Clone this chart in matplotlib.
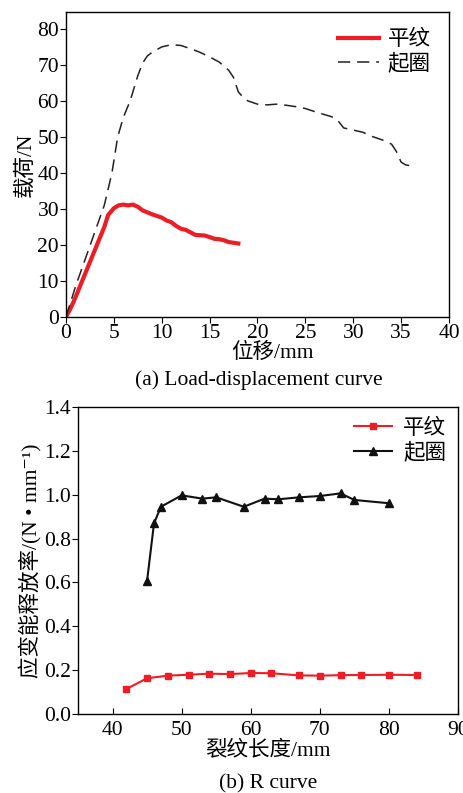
import matplotlib
matplotlib.use("Agg")
import matplotlib.pyplot as plt

# ---- data: (a) load-displacement ----
flat_x = [0, 0.5, 1, 2, 3, 4, 4.4, 5, 5.5, 6, 6.5, 7, 7.5, 8, 9, 10, 10.5, 11, 11.5, 12,
          12.5, 13, 13.5, 14, 14.5, 15, 15.5, 16, 16.5, 17, 17.5, 18]
flat_y = [0, 2.5, 5.5, 12, 18.5, 25, 28.3, 30.2, 31, 31.2, 31.0, 31.2, 30.6, 29.6, 28.5,
          27.6, 26.8, 26.3, 25.3, 24.5, 24.2, 23.5, 22.8, 22.7, 22.6, 22.2, 21.7, 21.6,
          21.3, 20.8, 20.6, 20.4]
loop_x = [0, 1, 2, 3, 4, 4.8, 5.4, 6, 6.7, 7.5, 8, 8.5, 9, 10, 11, 12, 13, 14, 15, 16,
          17, 17.5, 18, 18.5, 19, 20, 21, 22, 23, 24, 25, 26, 27, 28, 28.5, 29, 30, 31,
          32, 33, 34, 34.5, 35, 35.5, 36.3]
loop_y = [0, 8.5, 16, 23.5, 31, 40, 50, 55.5, 60, 67, 70.5, 72.5, 73.5, 75, 75.6, 75.4,
          74.5, 73.5, 72.2, 70.8, 68.5, 66.5, 62.5, 61, 60, 59.1, 58.9, 59.1, 58.8, 58.4,
          57.9, 57, 56.2, 55.4, 54.2, 52.5, 51.9, 51.3, 50.1, 49.2, 48, 46, 43, 42.2, 41.9]

# ---- data: (b) R curve ----
r_flat_x = [42, 45, 48, 51, 54, 57, 60, 63, 67, 70, 73, 76, 80, 84]
r_flat_y = [0.114, 0.163, 0.175, 0.179, 0.184, 0.182, 0.187, 0.186, 0.176, 0.175,
            0.177, 0.178, 0.179, 0.178]
r_loop_x = [45, 46, 47, 50, 53, 55, 59, 62, 64, 67, 70, 73, 75, 80]
r_loop_y = [0.608, 0.869, 0.945, 0.997, 0.982, 0.988, 0.945, 0.982, 0.979, 0.988,
            0.994, 1.006, 0.976, 0.961]

plt.rcParams['font.family'] = ['Liberation Serif', 'Noto Sans CJK SC', 'DejaVu Serif']
plt.rcParams['axes.linewidth'] = 1.0
fs = 15.5     # tick labels / captions
fl = 15.5     # axis labels, legend

fig = plt.figure(figsize=(4.64, 7.93), dpi=100)

# ==============================
# (a) Load-displacement curve
# ==============================
ax1 = fig.add_axes([0.1422, 0.6003, 0.8254, 0.3846])
ax1.plot(flat_x, flat_y, color='#ee1c25', lw=3, label='平纹')
ax1.plot(loop_x, loop_y, color='#222222', lw=1.1, ls=(0, (8, 4.5)), label='起圈')
ax1.set_xlim(0, 40)
ax1.set_ylim(0, 84.7)
ax1.set_xticks(range(0, 41, 5))
ax1.set_yticks(range(0, 81, 10))
ax1.tick_params(direction='out', length=4, labelsize=fs, pad=1)
ax1.set_xlabel('位移/mm', fontsize=fl, labelpad=-1)
ax1.xaxis.set_label_coords(0.54, -0.085)
ax1.set_ylabel('载荷/N', fontsize=fl, labelpad=1)
ax1.legend(loc='upper right', frameon=False, fontsize=fl, handlelength=1.9,
           handletextpad=0.4, borderaxespad=0.45, labelspacing=0.15)
fig.text(0.557, 0.521, '(a) Load-displacement curve', ha='center', va='center', fontsize=fs)

# ==============================
# (b) R curve
# ==============================
ax2 = fig.add_axes([0.1681, 0.0996, 0.819, 0.3872])
ax2.plot(r_flat_x, r_flat_y, color='#ee1c25', lw=1.5, marker='s', ms=5, label='平纹')
ax2.plot(r_loop_x, r_loop_y, color='#111111', lw=1.5, marker='^', ms=5.5, label='起圈')
ax2.set_xlim(35, 90)
ax2.set_ylim(0, 1.4)
ax2.set_xticks(range(40, 91, 10))
ax2.set_yticks([0.0, 0.2, 0.4, 0.6, 0.8, 1.0, 1.2, 1.4])
ax2.set_yticklabels(['0.0', '0.2', '0.4', '0.6', '0.8', '1.0', '1.2', '1.4'])
ax2.tick_params(axis='y', direction='out', length=4, labelsize=fs, pad=1)
ax2.tick_params(axis='x', direction='in', length=4, labelsize=fs, pad=5)
ax2.set_xlabel('裂纹长度/mm', fontsize=fl, labelpad=0)
ax2.set_ylabel('应变能释放率/(N • mm⁻¹)', fontsize=fl, labelpad=1)
ax2.legend(loc='upper right', frameon=False, fontsize=fl, handlelength=1.8,
           handletextpad=0.5, borderaxespad=0.15, labelspacing=0.15)
fig.text(0.578, 0.011, '(b) R curve', ha='center', va='center', fontsize=fs)

fig.savefig('out.png', dpi=100)
